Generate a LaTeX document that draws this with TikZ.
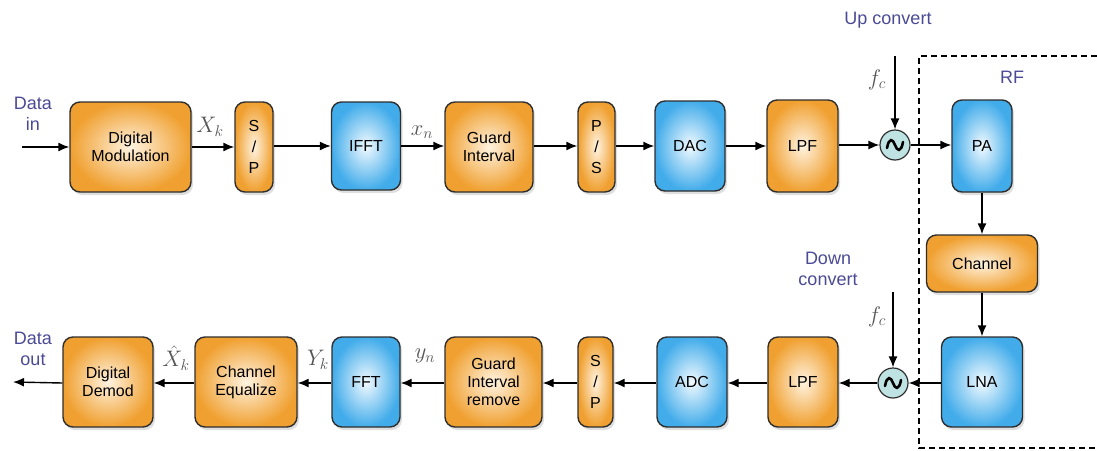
\documentclass[tikz,border=0pt]{standalone}
\usepackage{fontspec}
\setmainfont{Liberation Sans}
\usetikzlibrary{arrows.meta,shadows}
\definecolor{orout}{HTML}{F0A030}
\definecolor{orin}{HTML}{FFF3E0}
\definecolor{blout}{HTML}{42ACEA}
\definecolor{blin}{HTML}{F2FAFF}
\definecolor{lblue}{HTML}{4A4A96}
\definecolor{mixfill}{HTML}{BFE2E2}
\definecolor{edge}{HTML}{2E2E2E}
\definecolor{mathgray}{HTML}{555555}
\newcommand{\mlab}[1]{\scalebox{1.3}{$#1$}}
\tikzset{
  blk/.style={draw=edge, line width=1.4pt, rounded corners=10pt, align=center,
    font=\fontsize{16}{18}\selectfont, inner sep=0pt,
    drop shadow={opacity=0.25, shadow xshift=2pt, shadow yshift=-3pt}},
  orbox/.style={blk, inner color=orin, outer color=orout},
  blbox/.style={blk, inner color=blin, outer color=blout},
  mixer/.style={circle, draw=edge, line width=1.2pt, fill=mixfill, minimum size=30pt, inner sep=0pt},
  conn/.style={line width=1.4pt, -{Latex[length=11pt,width=9pt]}},
  bluelbl/.style={text=lblue, font=\fontsize{18}{21}\selectfont, align=center},
  mlbl/.style={text=mathgray, font=\fontsize{17}{20}\selectfont, inner sep=1pt},
  tilde/.style={line width=2.6pt, line cap=round}
}
\begin{document}
\begin{tikzpicture}[x=1pt,y=-1pt]
\useasboundingbox (0,0) rectangle (1097,450);
% dashed RF region
\draw[dashed, line width=1.3pt, dash pattern=on 6pt off 4pt] (1097,56) -- (919,56) -- (919,448) -- (1097,448);
\node[bluelbl] (rf) at (1012,77) {RF};
% top row
\node[orbox, minimum width=121pt, minimum height=90pt] (dm) at (130.5,147) {Digital\\Modulation};
\node[orbox, minimum width=38pt, minimum height=90pt, font=\fontsize{16}{21}\selectfont] (sp1) at (254,147) {S\\/\\P};
\node[blbox, minimum width=69pt, minimum height=88pt] (ifft) at (366,146) {IFFT};
\node[orbox, minimum width=88pt, minimum height=90pt] (gi) at (489,147) {Guard\\Interval};
\node[orbox, minimum width=37pt, minimum height=90pt, font=\fontsize{16}{21}\selectfont] (ps) at (596.5,147) {P\\/\\S};
\node[blbox, minimum width=70pt, minimum height=90pt] (dac) at (690,146) {DAC};
\node[orbox, minimum width=71pt, minimum height=92pt] (lpf1) at (802.5,146) {LPF};
\node[mixer] (mix1) at (895,145) {};
\node[blbox, minimum width=60pt, minimum height=92pt] (pa) at (982,146) {PA};
\node[orbox, minimum width=111pt, minimum height=57pt] (ch) at (982,263.5) {Channel};
\node[blbox, minimum width=81pt, minimum height=90pt] (lna) at (982,382) {LNA};
% bottom row
\node[mixer] (mix2) at (893,383) {};
\node[orbox, minimum width=70pt, minimum height=90pt] (lpf2) at (803,382) {LPF};
\node[blbox, minimum width=70pt, minimum height=90pt] (adc) at (692,382) {ADC};
\node[orbox, minimum width=35pt, minimum height=90pt, font=\fontsize{16}{21}\selectfont] (sp2) at (595.5,382) {S\\/\\P};
\node[orbox, minimum width=97pt, minimum height=90pt] (gir) at (493.5,382) {Guard\\Interval\\remove};
\node[blbox, minimum width=68pt, minimum height=90pt] (fft) at (366,382) {FFT};
\node[orbox, minimum width=102pt, minimum height=90pt] (ceq) at (246,382) {Channel\\Equalize};
\node[orbox, minimum width=90pt, minimum height=90pt] (dd) at (108,382) {Digital\\Demod};
% tildes
\draw[tilde] (887,148) .. controls (889,137) and (893,139) .. (895,145) .. controls (897,151) and (901,153) .. (903,142);
\draw[tilde] (885,386) .. controls (887,375) and (891,377) .. (893,383) .. controls (895,389) and (899,391) .. (901,380);
% labels
\node[bluelbl] (din) at (33,114) {Data\\in};
\node[bluelbl] (dout) at (33,349) {Data\\out};
\node[bluelbl] (up) at (888,20) {Up convert};
\node[bluelbl] (down) at (828,269) {Down\\convert};
\node[mlbl] (fc1) at (877,80) {\mlab{f_c}};
\node[mlbl] (fc2) at (877,317) {\mlab{f_c}};
\node[mlbl] (xk) at (210,127) {\mlab{X_k}};
\node[mlbl] (xn) at (422,132) {\mlab{x_n}};
\node[mlbl] (yn) at (425,356) {\mlab{y_n}};
\node[mlbl] (Yk) at (318,360) {\mlab{Y_k}};
\node[mlbl] (xhk) at (176,358) {\mlab{\hat{X}_k}};
% coordinates
\coordinate (inS) at (22,147);
\coordinate (outE) at (13,382);
\coordinate (fcA) at (895,56);
\coordinate (fcB) at (893,292);
% connectors top
\draw[conn] (inS) -- (inS -| dm.west);
\draw[conn] (dm.east |- 0,147) -- (sp1.west |- 0,147);
\draw[conn] (sp1.east |- 0,146) -- (ifft.west |- 0,146);
\draw[conn] (ifft.east |- 0,146) -- (gi.west |- 0,146);
\draw[conn] (gi.east |- 0,146) -- (ps.west |- 0,146);
\draw[conn] (ps.east |- 0,146) -- (dac.west |- 0,146);
\draw[conn] (dac.east |- 0,146) -- (lpf1.west |- 0,146);
\draw[conn] (lpf1.east |- 0,145) -- (mix1.west);
\draw[conn] (mix1.east) -- (pa.west |- 0,145);
\draw[conn] (fcA) -- (mix1.north);
\draw[conn] (pa.south) -- (ch.north);
\draw[conn] (ch.south) -- (lna.north);
% connectors bottom
\draw[conn] (lna.west |- 0,383) -- (mix2.east);
\draw[conn] (fcB) -- (mix2.north);
\draw[conn] (mix2.west) -- (lpf2.east |- 0,383);
\draw[conn] (lpf2.west |- 0,383) -- (adc.east |- 0,383);
\draw[conn] (adc.west |- 0,383) -- (sp2.east |- 0,383);
\draw[conn] (sp2.west |- 0,383) -- (gir.east |- 0,383);
\draw[conn] (gir.west |- 0,383) -- (fft.east |- 0,383);
\draw[conn] (fft.west |- 0,383) -- (ceq.east |- 0,383);
\draw[conn] (ceq.west |- 0,383) -- (dd.east |- 0,383);
\draw[conn] (dd.west |- 0,383) -- (outE);
\end{tikzpicture}
\end{document}
